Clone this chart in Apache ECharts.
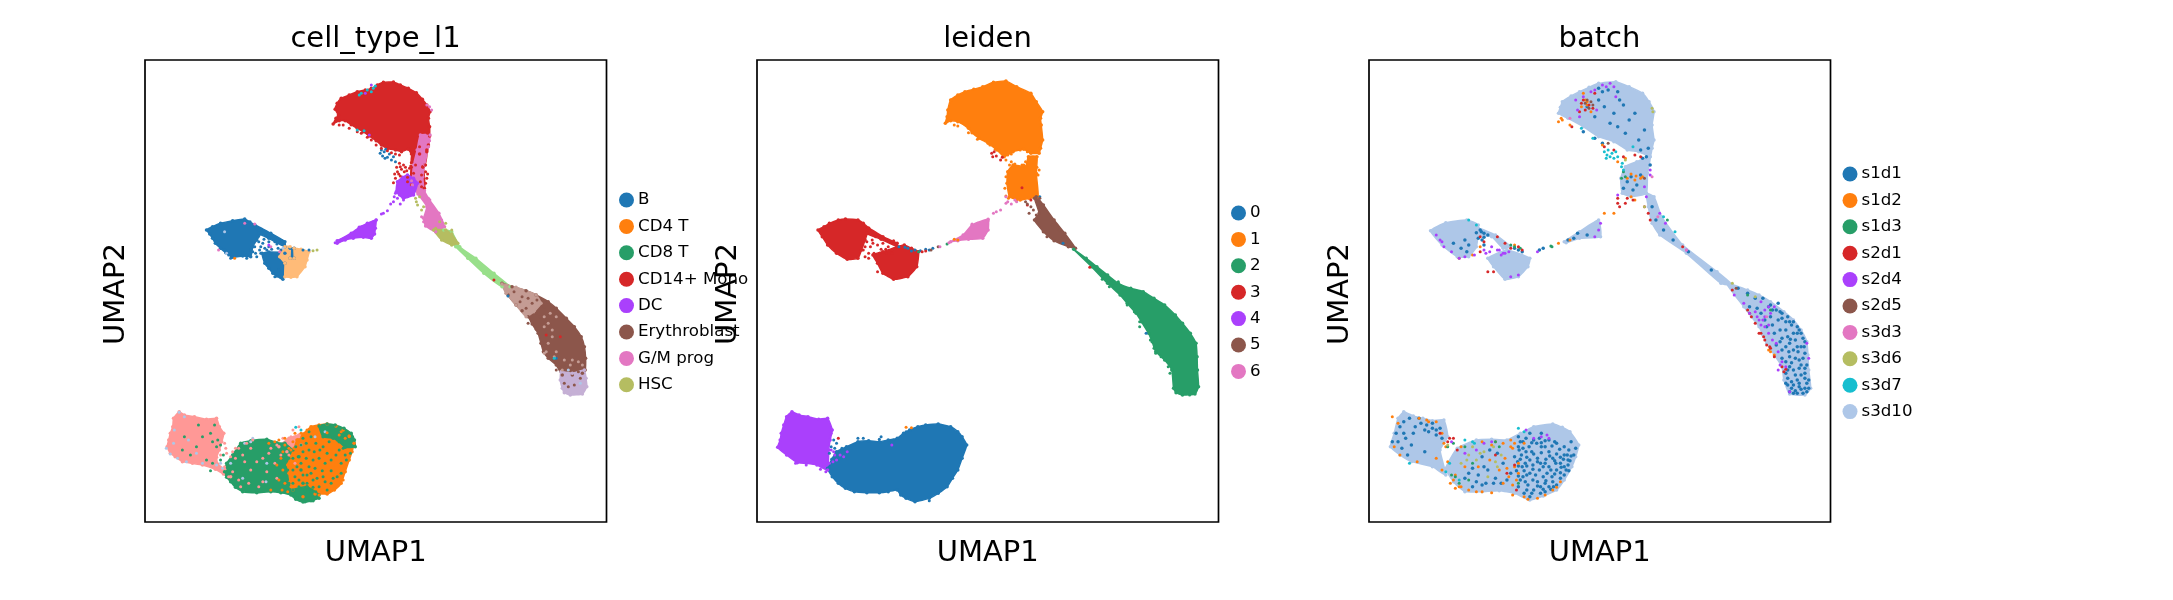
<!DOCTYPE html>
<html><head><meta charset="utf-8">
<style>html,body{margin:0;padding:0;background:#fff}#c{width:2173px;height:600px}</style>
<script src="https://cdn.jsdelivr.net/npm/echarts@6/dist/echarts.min.js"></script>
</head><body><div id="c"></div>
<script>
// Outlines and scattered cells (x, y pairs in each panel's UMAP units)
const panelTitles = ['cell_type_l1', 'leiden', 'batch'];
const cellTypeLegend = ['B','CD4 T','CD8 T','CD14+ Mono','DC','Erythroblast','G/M prog','HSC'];
const leidenLegend = ['0','1','2','3','4','5','6'];
const batchLegend = ['s1d1','s1d2','s1d3','s2d1','s2d4','s2d5','s3d3','s3d6','s3d7','s3d10'];
const c = {blue:'#1f77b4',orange:'#ff7f0e',green:'#279e68',red:'#d62728',purple:'#aa40fc',brown:'#8c564b',pink:'#e377c2',olive:'#b5bd61',cyan:'#17becf',lblue:'#aec7e8',lorange:'#ffbb78',lgreen:'#98df8a',salmon:'#ff9896',lpurple:'#c5b0d5',lbrown:'#c49c94'};

// --- panel 1: cell types ---
const p1Salmon = [[122,1085,135,1095,160,1100,190,1108,215,1105,222,1130,233,1150,228,1175,222,1200,215,1222,218,1242,235,1258,250,1280,232,1272,212,1258,180,1245,155,1240,130,1235,112,1220,100,1210,92,1190,96,1170,100,1150,106,1130,108,1105],[370,1190,395,1165,420,1155,425,1185,390,1205]];
const p1SalmonDots = [240,1210,255,1205,270,1195,290,1180,305,1170,300,1195,285,1235,300,1260,270,1290,340,1265,330,1295,360,1240,375,1215,350,1195,395,1215,410,1240,420,1160,390,1170,365,1185,245,1280,235,1250,262,1225,275,1310,345,1210,235,1180,238,1195,225,1215,250,1220,262,1195,280,1215,315,1235,330,1225,255,1265,295,1300,320,1310,365,1285,380,1165,405,1140,400,1160,420,1130];
const p1LblueDots = [122,1087,135,1100,90,1195,100,1212,108,1180,230,1255,225,1240,300,1175,338,1295,280,1285,340,1240,250,1240,215,1245,180,1240,460,1160,485,1145,305,1165,285,1180,140,1235,118,1225,110,1140,145,1170,165,1210,235,545,240,610,380,595,1120,1000,1090,960];
const p1Green = [[240,1240,255,1215,275,1180,300,1172,340,1168,365,1178,385,1180,405,1200,420,1220,425,1260,430,1300,450,1325,470,1345,450,1352,430,1356,412,1348,400,1335,375,1328,350,1325,315,1328,280,1325,262,1312,250,1295,240,1282,235,1265]];
const p1Orange = [[415,1170,430,1152,450,1130,470,1125,490,1122,512,1128,530,1140,545,1158,557,1180,552,1205,545,1230,535,1265,525,1300,508,1320,490,1332,460,1332,430,1340,405,1320,398,1295,395,1270,392,1245,400,1220,408,1195]];
const p1GreenOver = [[470,1128,490,1122,510,1125,532,1135,550,1150,558,1170,560,1190,535,1192,520,1175,505,1165,480,1160],[405,1320,440,1310,470,1335,455,1352,435,1355,415,1345]];
const p1GreenDots = [200,1150,205,1175,215,1190,225,1185,170,1125,130,1200,150,1215,190,1230,232,1215,225,1230,430,1165,445,1200,462,1180,480,1190,495,1175,520,1200,535,1215,500,1230,470,1225,445,1250,425,1240,410,1280,430,1275,455,1290,480,1280,500,1300,470,1310,440,1300,515,1280,525,1240,460,1255,485,1240,430,1205,450,1160,415,1250,515,1170,538,1230,548,1210,490,1320,420,1310,405,1300,395,1225,438,1180,412,1190,425,1185,445,1145,458,1205,472,1200,490,1210,512,1215,530,1195,405,1225,418,1220,438,1225,455,1230,478,1262,500,1262,440,1275,420,1290,395,1300,392,1260,405,1260,450,1270,465,1285,485,1295,505,1285,525,1270,455,1312,435,1322,410,1332,462,1325,205,1240,200,1262,218,1170,210,1125,180,1160,165,1190,135,1160];
const p1OrangeDots = [385,1185,400,1200,395,1240,380,1260,370,1290,385,1300,400,1310,375,1225,345,1180,360,1175,405,1175,395,1195,410,1150,425,1150,440,1140,480,1320,510,1315,530,1290,545,1160,525,1145,500,1205,440,1170,350,1320,365,1245,380,1205,370,1170,385,1165,378,1320,392,1325,520,1155,490,1148,510,1180,535,1165,260,625,470,1335];
const p1Mono = [[505,222,512,205,518,195,510,178,515,160,525,145,545,135,565,125,585,120,600,115,615,105,630,97,655,96,672,105,692,115,712,128,727,148,738,165,746,185,742,205,745,230,745,258,742,285,738,305,720,312,700,312,692,298,675,305,660,300,640,296,625,285,612,272,595,258,580,245,565,235,550,224,535,212,520,212],[703,305,738,300,733,345,700,338],[700,350,728,350,732,415,700,405]];
const p1Pink = [[722,255,746,255,742,290,733,345,728,380,732,422,745,450,768,490,782,530,760,545,735,528,730,505,738,470,716,432,702,405,705,345,714,300]];
const p1Dc = [[665,395,678,382,690,375,705,385,715,400,705,435,680,445,662,425],[550,550,570,532,590,520,612,510,610,535,608,552,600,565,580,562,555,565,535,570,515,580,515,572]];
const p1Lgreen = [[780,540,800,545,820,590,860,625,905,670,945,710,925,710,880,670,840,625,810,590]];
const p1Olive = [[755,540,785,540,800,552,815,580,800,585,775,570]];
const p1Brown = [[925,700,950,710,985,722,1010,735,1040,755,1060,775,1085,805,1105,830,1122,860,1130,890,1133,925,1132,960,1125,970,1100,975,1075,975,1060,945,1040,925,1028,905,1022,880,1015,850,1000,822,990,800,975,782,960,765,940,735]];
const p1Lbrown = [[925,702,960,712,1010,735,1022,760,1005,785,985,800,960,765,935,730]];
const p1Lpurple = [[1072,965,1100,970,1130,960,1134,985,1136,1010,1125,1032,1095,1035,1080,1028,1075,1015,1070,990]];
const p1Blue = [[190,540,205,530,225,520,255,512,285,507,298,516,310,525,325,550,315,570,305,590,300,620,280,618,255,622,238,608,225,595,212,580,205,565,198,552],[310,525,350,550,385,575,385,590,345,565,320,550],[328,610,345,606,385,610,385,640,380,688,365,678,355,670,345,655,335,640],[398,595,408,595,408,625,398,625]];
const p1Lorange = [[385,590,398,590,398,625,408,625,408,595,425,598,445,605,440,630,435,650,415,680,400,682,385,680,385,640,372,620]];
const p1BlueDots = [622,310,628,318,632,305,640,322,650,330,645,312,636,298,655,320,625,300,660,335,634,325,310,590,320,575,330,580,345,590,360,575,340,600,325,610,315,620,290,615,280,605,305,605,350,610,368,595,375,600,333,568,318,560,290,625,360,680,370,660,430,600,445,600,940,738,1060,925,325,590,335,595,312,610,352,598,365,582,322,600,345,575,378,572,300,600,250,625,245,615,235,600,215,575];
const p1MonoDots = [530,225,545,235,565,245,590,262,612,285,640,302,660,312,672,350,665,365,660,385,680,345,695,355,705,370,725,375,735,365,738,385,722,395,668,372,682,365,690,382,710,345,728,352,740,250,720,290,663,352,675,358,688,362,658,372,690,395,725,410,735,345,1035,855,1070,860,905,690,670,340,685,352,698,348,672,378,655,398,740,372,735,400,520,225,575,250,600,270,625,295,650,308,670,315];
const p1PinkDots = [750,180,745,170,738,165,735,262,745,272,720,345,715,380,700,392,742,445,725,500,730,515,745,530,760,530,775,510,770,520,310,522,350,590,372,605,220,600,285,520];
const p1DcDots = [630,490,640,482,655,455,665,445,680,450,690,440,660,430,625,492,672,462,700,412,520,575,545,555,575,530,605,515,585,130,600,105,595,255,345,585,657,440,670,435,648,462,695,432,510,578,612,510,608,518];
const p1OliveDots = [710,445,720,440,715,465,725,480,770,515,785,520,800,540,465,600,455,602,712,455,730,470,760,535,790,575];
const p1Cyan = [575,130,605,115,610,108,565,240,582,242,600,125,412,1132,425,1140,1055,925,570,135,590,120];
const p1BrownDots = [1000,760,985,775,1010,790,1030,770,1020,800,1000,815,1045,825,1085,945,1100,950,1080,1000,1090,1010,1120,985,1105,1005,1060,960,1075,950,990,820,1040,905,1025,880,955,725,975,740,1040,912,1010,838,1012,750,990,745,970,755,1115,965];
const p1LbrownDots = [1040,820,1030,830,1050,840,1045,790,1030,800,1080,930,1100,930,1115,935,1060,905,1035,905,1075,960,1125,945,1060,800,1050,860,1030,910,1095,945,1055,920,1040,880];

// --- panel 2: leiden clusters ---
const p2Orange = [[575,220,580,200,582,180,590,150,610,135,630,125,655,118,680,110,710,97,745,93,775,110,815,130,830,155,848,185,842,205,844,225,848,270,842,295,838,310,815,310,795,298,765,305,740,320,720,300,695,280,670,265,650,248,640,235,610,215,590,212],[748,400,750,365,765,345,800,350,808,320,832,320,830,370,835,440,810,445,785,450,755,440]];
const p2OrangeDots = [725,300,735,320,745,330,755,345,760,335,770,342,790,345,800,335,795,345,745,380,742,415,752,445,775,452,600,225,610,228,640,248,665,268,835,375,838,360,480,1133,465,1132,610,570,600,568,700,285,715,298,738,318,750,315,760,312,785,300,805,305,825,340,832,352,745,438];
const p2Red = [[218,540,235,530,250,520,275,510,295,507,330,510,345,520,360,535,350,570,340,600,330,625,300,628,270,610,245,585,230,560],[360,535,400,560,440,580,440,590,395,568,355,550],[372,615,400,605,440,590,460,585,480,595,500,605,495,650,470,680,430,688,400,670,385,640]];
const p2RedDots = [705,310,712,305,708,320,718,318,730,330,735,322,790,413,275,1165,380,560,355,575,365,590,385,585,400,580,415,590,425,600,345,600,360,610,375,610,390,610,410,610,425,610,350,620,340,585,370,570,385,665,495,610,510,605,520,603,805,465,815,450,980,652,350,590,372,580,395,598,408,598,430,572,360,625];
const p2Blue = [[245,1255,257,1228,270,1205,298,1190,330,1175,360,1172,390,1175,415,1170,440,1165,458,1150,475,1140,498,1130,520,1125,555,1122,590,1130,610,1145,622,1160,635,1185,622,1225,610,1260,595,1285,580,1310,555,1330,530,1345,490,1355,465,1345,450,1335,440,1320,415,1325,390,1328,355,1328,320,1325,295,1315,275,1300,258,1280]];
const p2BlueDots = [262,1170,270,1180,255,1190,265,1195,285,1195,300,1195,320,1185,345,1165,250,1250,445,590,470,595,490,600,505,602,530,600,1138,850,530,1352,630,1190,420,1180,395,1160,430,1170,250,1210,262,1225,905,580,840,440,480,603,520,598,540,595,462,592,310,1195,330,1165,390,1168,465,1145];
const p2Purple = [[145,1085,165,1095,190,1100,220,1108,245,1105,258,1140,252,1170,248,1200,245,1260,215,1245,185,1240,160,1238,130,1215,105,1192,112,1170,115,1150,122,1125,130,1100]];
const p2PurpleDots = [255,1200,265,1215,250,1240,260,1235,270,1230,290,1220,300,1205,225,1258,240,1265,425,1185,255,1150,280,1215,262,1205,235,1250,155,1240,185,1245];
const p2Brown = [[830,440,850,465,880,510,910,550,940,595,920,590,880,572,850,545,825,510,838,490,825,445]];
const p2BrownDots = [805,462,815,470,822,480,810,490,830,495,828,445,800,455,840,445,555,590,535,600,875,525,895,540,905,560,915,575,860,560];
const p2Green = [[935,598,970,625,1000,650,1030,675,1060,700,1095,715,1130,725,1160,745,1190,765,1220,795,1240,820,1262,850,1278,880,1281,920,1282,960,1285,1010,1275,1032,1240,1035,1222,1028,1215,1015,1210,960,1190,930,1165,905,1155,875,1145,850,1125,815,1110,790,1085,760,1065,735,1030,700,985,650]];
const p2GreenDots = [1045,700,1015,688,1035,710,1120,815,1105,785,1165,910,1180,920,1200,950,1205,970,1260,1035,1000,660,1060,695,580,582,500,605,1015,670,1040,690,1085,765,1120,830,1135,825,1150,870,1160,895];
const p2Pink = [[590,575,625,555,650,525,695,508,695,540,680,565,640,568,610,572]];
const p2PinkDots = [710,490,718,485,730,480,745,440,750,455,760,462,775,455,770,450,745,460,560,590,585,578,650,522,665,520,695,512];

// --- panel 3: batches ---
const p3Lblue = [[545,190,550,172,555,155,578,138,600,125,625,112,650,100,695,95,730,110,765,130,782,155,795,185,790,225,795,270,790,295,785,320,755,305,725,300,690,275,650,260,610,230,570,205],[785,320,778,370,775,430,735,440,712,430,708,385,720,350,750,335],[775,430,795,440,815,500,870,585,960,665,1000,705,970,700,880,610,810,555,790,520,780,470],[985,700,1040,720,1070,735,1100,755,1135,785,1160,810,1180,840,1195,875,1198,915,1200,960,1205,1015,1190,1035,1150,1032,1135,990,1130,950,1110,915,1090,880,1080,855,1070,830,1050,800,1030,770],[210,542,250,518,305,510,335,525,330,590,310,620,280,620,240,585],[335,535,380,555,420,590,400,595,370,560,330,555],[360,625,410,600,470,625,465,650,440,680,405,688,375,650],[560,575,600,545,650,510,655,560,600,565,565,578],[140,1085,165,1098,190,1105,215,1112,245,1110,255,1160,235,1200,250,1275,215,1250,160,1235,130,1215,105,1190,115,1150,125,1105],[250,1255,280,1195,330,1170,370,1168,410,1170,445,1150,480,1130,530,1122,555,1132,575,1145,598,1185,590,1220,580,1250,560,1290,540,1320,505,1338,470,1350,430,1330,390,1322,345,1325,300,1325,270,1295]];
const p3Blue = [650,115,660,125,675,120,700,125,705,150,715,165,650,150,665,170,620,170,690,190,730,210,745,190,700,230,720,250,680,220,640,200,760,300,775,320,780,295,765,325,755,270,770,240,785,345,735,380,725,395,750,405,740,420,715,415,760,375,790,470,800,510,820,540,845,570,885,605,945,660,1015,715,1040,730,1060,745,1080,745,1100,765,1115,780,1130,790,1145,800,1160,815,1170,830,1180,850,1190,875,1160,850,1140,840,1120,810,1100,800,1130,865,1150,880,1170,890,1190,910,1130,900,1150,920,1175,930,1195,945,1160,960,1180,975,1140,970,1195,1000,1200,1015,1175,1010,1160,1005,1145,1005,1150,1025,1185,1030,1165,1022,1110,850,1090,830,1075,790,1045,770,1065,775,1120,760,340,540,350,550,360,555,335,565,345,570,350,585,300,570,290,595,270,580,305,605,430,595,440,600,450,605,495,600,505,595,570,570,585,565,595,550,620,555,120,1150,130,1130,145,1165,170,1130,185,1120,200,1125,215,1135,205,1145,225,1155,160,1185,135,1195,110,1175,150,1215,195,1205,440,1190,460,1205,480,1170,500,1190,520,1205,540,1180,560,1215,470,1230,490,1225,510,1240,530,1225,550,1240,570,1230,450,1250,470,1270,495,1260,515,1270,540,1260,560,1250,445,1290,465,1305,490,1295,510,1300,530,1295,550,1285,480,1320,510,1325,455,1330,440,1160,470,1150,500,1150,430,1220,420,1270,400,1240,380,1285,360,1260,345,1220,330,1295,310,1270,365,1200,385,1210,395,1300,610,245,640,265,660,280,1160,1030,
 452,1175,468,1190,488,1180,510,1172,528,1188,548,1198,572,1200,585,1215,448,1215,462,1222,480,1212,500,1208,522,1218,540,1212,558,1228,578,1218,438,1235,458,1240,478,1245,498,1240,520,1250,538,1240,570,1245,455,1262,485,1275,505,1280,528,1280,550,1268,572,1262,435,1262,452,1280,478,1290,498,1310,520,1310,540,1305,560,1275,462,1320,498,1330,525,1318,440,1310,470,1340,442,1200,520,1170,495,1165,460,1165,
 1105,780,1125,785,1140,815,1155,825,1170,850,1185,865,1125,840,1145,860,1165,870,1180,890,1115,885,1140,890,1160,900,1185,925,1140,935,1165,925,1190,955,1150,950,1175,955,1130,925,1145,985,1170,990,1190,985,1155,1015,1200,990,1190,1015,1140,1000,1170,1030,1095,770,1085,810,1105,825,1125,875,
 125,1175,140,1150,165,1150,195,1140,215,1120,235,1135,240,1165,180,1105,155,1105,140,1115,225,1140,320,1255,335,1275,300,1285,350,1250,375,1300,355,1300,410,1290,320,1310,345,1305,
 445,1175,475,1178,500,1178,535,1175,560,1190,578,1175,590,1195,452,1195,475,1205,510,1190,550,1222,568,1215,445,1228,490,1235,512,1228,535,1232,575,1232,462,1248,505,1250,525,1260,552,1252,440,1248,478,1258,462,1275,512,1292,535,1272,565,1260,440,1278,458,1295,490,1308,532,1310,475,1330,505,1318,1130,805,1150,815,1175,840,1188,890,1152,868,1172,905,1148,905,1180,945,1155,938,1190,970,1165,975,1145,960,1175,1000,1155,995,1195,1025,1180,1018,350,562,343,545,330,548,310,585];
const p3Orange = [545,215,552,205,575,225,610,130,620,155,630,185,605,170,660,285,700,335,720,325,735,440,745,450,765,380,745,390,725,385,1100,905,1110,915,1095,900,690,490,665,490,545,580,575,570,250,1190,110,1100,125,1120,180,1105,225,1115,240,1150,115,1190,130,1215,175,1235,255,1235,240,1260,270,1290,285,1310,310,1320,345,1325,370,1328,400,1300,380,1175,345,1175,400,1180,420,1170,425,1195,430,1250,415,1280,440,1270,425,1305,465,1348,490,1345,510,1335,530,1320,550,1295,455,1180,300,1250,335,1250,290,1190,365,1230,390,1260,405,1225,435,1290,340,590,430,585,320,615,285,625,225,1225,275,1275,262,1300,275,1315,330,1325,420,1190,440,1240,410,1255,425,1335,455,1340,540,1312,205,1115,200,1110,245,1180,555,210,620,165,615,150,748,378,735,372,760,385,430,1180,370,1185,290,1310];
const p3Green = [430,590,445,595,525,588,270,1180,300,1190,320,1240,275,1280,390,1190,285,1300,440,1300,720,380,715,365,1040,735,1100,780,830,510,420,585,528,590,710,385,255,1190,380,1175,310,1290,265,1275];
const p3Red = [610,150,625,165,640,130,600,185,580,230,665,290,690,300,715,320,745,315,760,320,725,445,700,460,705,470,770,470,780,490,785,510,870,590,1000,720,1040,780,1050,800,1060,820,1075,850,1085,870,1090,885,1100,895,1110,920,1130,950,1135,965,270,1165,255,1175,235,1150,340,560,350,575,385,560,405,580,420,595,340,605,360,665,375,665,440,590,450,600,380,1215,410,1270,430,1245,280,1200,435,1320,1070,850,1082,860,1098,890,1140,958,1045,790,615,180,635,175,605,160,700,445,720,460,740,450,260,1165];
const p3Purple = [610,140,630,125,660,105,680,100,695,140,600,200,595,180,645,180,785,360,785,375,770,410,700,435,775,440,810,490,825,520,880,600,1005,735,1030,760,1045,790,1065,800,1080,810,1085,830,1095,850,1085,780,1100,790,1110,770,1120,960,1130,935,1140,950,1195,880,1200,925,1150,1025,235,570,245,590,265,605,285,625,300,620,325,615,365,605,385,600,400,610,415,605,440,675,420,680,390,600,370,590,350,600,355,610,650,540,655,520,640,560,480,1165,500,1160,520,1165,460,1140,300,1210,330,1200,350,1180,370,1175,265,1175,515,1155,490,605,1070,810,1075,825,1095,825,1105,870,1115,880,1120,905,1125,945,1085,800,1060,785,1075,755,1095,770,405,610,395,615,225,555,240,575,640,120,670,110,690,110,590,150];
const p3Brown = [620,150,630,155,615,160,635,165,625,175,675,280,770,385,1010,715];
const p3Pink = [575,205,790,380,805,500,880,600,1090,800];
const p3Olive = [792,185,790,175,720,330,1000,700,1060,740,320,1190,340,1210,305,1230,380,1235,360,1280,395,1215,255,1185,770,470,330,1230,350,1205,375,1190,310,1215,290,1240,385,1250];
const p3Cyan = [665,305,672,315,680,320,690,325,670,325,695,305,710,350,715,360,605,235,635,265,310,510,330,525,820,500,850,545,260,1240,300,1170,325,1180,440,1135,455,1145,155,1240,285,1290,740,290,675,300,685,310,700,320,712,340,250,1265,320,1175];
const p3Lorange = [1030,740,1000,710];

const panels = [
 { left:145, xRange:[37,1185], legend:cellTypeLegend, legendLeft:619, legendTop:191, yName:116,
   shapes:[['G9',c.salmon,p1Salmon],['CD8 T',c.green,p1Green],['CD4 T',c.orange,p1Orange],['CD8 T',c.green,p1GreenOver],['CD14+ Mono',c.red,p1Mono],['G/M prog',c.pink,p1Pink],['DC',c.purple,p1Dc],['G10',c.lgreen,p1Lgreen],['HSC',c.olive,p1Olive],['Erythroblast',c.brown,p1Brown],['G11',c.lbrown,p1Lbrown],['G12',c.lpurple,p1Lpurple],['B',c.blue,p1Blue],['G13',c.lorange,p1Lorange]],
   dots:[['G14',c.lblue,p1LblueDots],['G9',c.salmon,p1SalmonDots],['CD8 T',c.green,p1GreenDots],['CD4 T',c.orange,p1OrangeDots],['B',c.blue,p1BlueDots],['CD14+ Mono',c.red,p1MonoDots],['G/M prog',c.pink,p1PinkDots],['DC',c.purple,p1DcDots],['HSC',c.olive,p1OliveDots],['Erythroblast',c.brown,p1BrownDots],['G11',c.lbrown,p1LbrownDots],['G15',c.cyan,p1Cyan]] },
 { left:757, xRange:[47,1341], legend:leidenLegend, legendLeft:1231, legendTop:204, yName:728,
   shapes:[['0',c.blue,p2Blue],['4',c.purple,p2Purple],['1',c.orange,p2Orange],['3',c.red,p2Red],['5',c.brown,p2Brown],['2',c.green,p2Green],['6',c.pink,p2Pink]],
   dots:[['0',c.blue,p2BlueDots],['4',c.purple,p2PurpleDots],['1',c.orange,p2OrangeDots],['3',c.red,p2RedDots],['5',c.brown,p2BrownDots],['2',c.green,p2GreenDots],['6',c.pink,p2PinkDots]] },
 { left:1369, xRange:[49,1257], legend:batchLegend, legendLeft:1842.5, legendTop:165, yName:1340,
   shapes:[['s3d10',c.lblue,p3Lblue]],
   dots:[['s1d1',c.blue,p3Blue],['s1d2',c.orange,p3Orange],['s1d3',c.green,p3Green],['s2d1',c.red,p3Red],['s2d4',c.purple,p3Purple],['s2d5',c.brown,p3Brown],['s3d3',c.pink,p3Pink],['s3d6',c.olive,p3Olive],['s3d7',c.cyan,p3Cyan],['s3d10',c.lblue,p3Lorange]] }
];
const legendColors = [
 [c.blue,c.orange,c.green,c.red,c.purple,c.brown,c.pink,c.olive],
 [c.blue,c.orange,c.green,c.red,c.purple,c.brown,c.pink],
 [c.blue,c.orange,c.green,c.red,c.purple,c.brown,c.pink,c.olive,c.cyan,c.lblue]];

const font = 'DejaVu Sans';
const pairs = f => { const o=[]; for(let i=0;i+1<f.length;i+=2) o.push([f[i],f[i+1]]); return o; };
const opt = {animation:false,backgroundColor:'#fff',grid:[],xAxis:[],yAxis:[],title:[],legend:[],series:[]};
panels.forEach((p,i)=>{
  opt.grid.push({left:p.left,top:60,width:461.5,height:462,show:true,borderColor:'#000',borderWidth:1.7,z:10,backgroundColor:'transparent'});
  opt.xAxis.push({gridIndex:i,type:'value',min:p.xRange[0],max:p.xRange[1],axisTick:{show:false},axisLabel:{show:false},splitLine:{show:false},axisLine:{show:false},
    name:'UMAP1',nameLocation:'middle',nameGap:17,nameTextStyle:{fontFamily:font,fontSize:29,color:'#000'}});
  opt.yAxis.push({gridIndex:i,type:'value',min:30,max:1416,inverse:true,axisTick:{show:false},axisLabel:{show:false},splitLine:{show:false},axisLine:{show:false},
    name:'UMAP2',nameLocation:'middle',nameGap:p.left-p.yName,nameTextStyle:{fontFamily:font,fontSize:29,color:'#000',verticalAlign:'middle',padding:[0,6,0,0]}});
  opt.title.push({text:panelTitles[i],left:p.left+230.5,top:25,padding:0,textAlign:'center',textStyle:{fontFamily:font,fontSize:29,fontWeight:'normal',color:'#000'}});
  opt.legend.push({orient:'vertical',left:p.legendLeft,top:p.legendTop,padding:0,itemWidth:15,itemHeight:15,itemGap:8.4,selectedMode:false,icon:'circle',
    textStyle:{fontFamily:font,fontSize:16.67,color:'#000',lineHeight:14,padding:[0,0,4,-1]},
    data:p.legend.map((n,k)=>({name:n,itemStyle:{color:legendColors[i][k],opacity:1}}))});
  p.shapes.forEach(([name,color,polys])=>{
    opt.series.push({type:'custom',name,coordinateSystem:'cartesian2d',xAxisIndex:i,yAxisIndex:i,silent:true,clip:true,
      itemStyle:{color},data:polys.map((_,k)=>[k]),
      renderItem:(params,api)=>({type:'polygon',shape:{points:pairs(polys[params.dataIndex]).map(pt=>api.coord(pt)),smooth:0.15},
        style:{fill:color,stroke:color,lineWidth:1.5}})});
  });
  p.shapes.forEach(([name,color,polys])=>{
    opt.series.push({type:'scatter',name,xAxisIndex:i,yAxisIndex:i,silent:true,symbolSize:3.5,itemStyle:{color,opacity:1},
      data:polys.flatMap(pairs)});
  });
  p.dots.forEach(([name,color,flat])=>{
    opt.series.push({type:'scatter',name,xAxisIndex:i,yAxisIndex:i,silent:true,symbolSize:name==='s1d1'?3.5:3,itemStyle:{color,opacity:1},data:pairs(flat)});
  });
});
const chart = echarts.init(document.getElementById('c'),null,{renderer:'canvas'});
chart.setOption(opt);
</script></body></html>
